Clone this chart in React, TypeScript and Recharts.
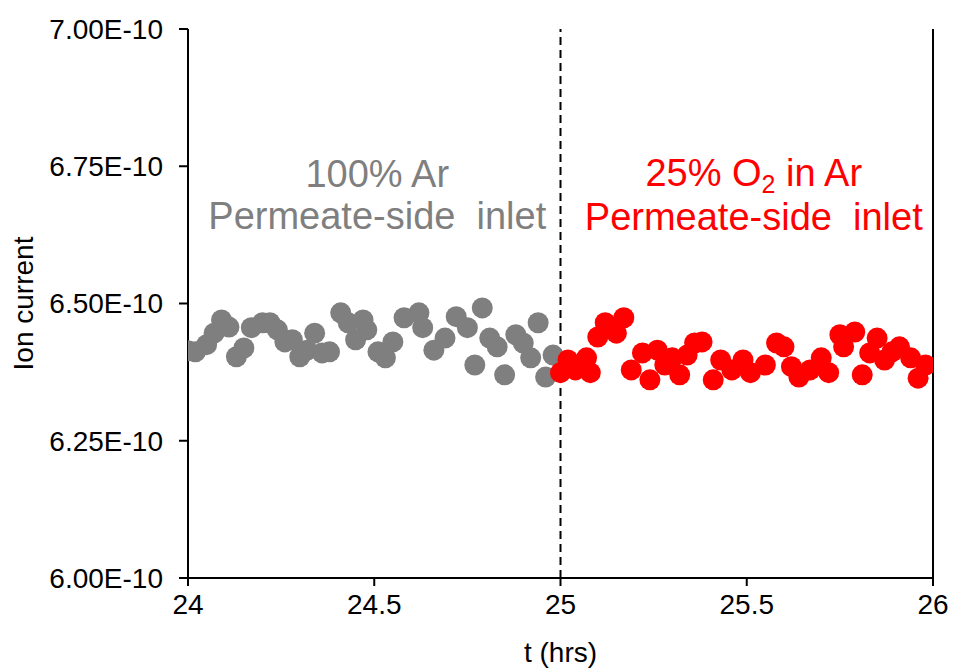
import React from 'react';
import { ScatterChart, Scatter, XAxis, YAxis, ReferenceLine, ReferenceArea, Label } from 'recharts';

const tGray = [24.0, 24.02, 24.05, 24.07, 24.09, 24.11, 24.13, 24.15, 24.17, 24.2, 24.22, 24.24, 24.26, 24.28, 24.3, 24.32, 24.34, 24.36, 24.38, 24.41, 24.43, 24.45, 24.47, 24.48, 24.51, 24.53, 24.55, 24.58, 24.62, 24.63, 24.66, 24.69, 24.72, 24.75, 24.77, 24.79, 24.81, 24.83, 24.85, 24.88, 24.9, 24.92, 24.94, 24.96, 24.98];
const iGray = [6.414, 6.412, 6.425, 6.446, 6.47, 6.457, 6.403, 6.419, 6.456, 6.465, 6.465, 6.452, 6.43, 6.434, 6.403, 6.415, 6.446, 6.41, 6.412, 6.483, 6.465, 6.434, 6.47, 6.452, 6.412, 6.401, 6.43, 6.474, 6.483, 6.456, 6.415, 6.437, 6.476, 6.456, 6.388, 6.492, 6.437, 6.421, 6.37, 6.443, 6.428, 6.401, 6.465, 6.366, 6.406].map((v) => v * 1e-10);

const tRed = [25.0, 25.02, 25.04, 25.07, 25.08, 25.1, 25.12, 25.15, 25.17, 25.19, 25.22, 25.24, 25.26, 25.28, 25.3, 25.32, 25.34, 25.36, 25.38, 25.41, 25.43, 25.46, 25.49, 25.51, 25.55, 25.58, 25.6, 25.62, 25.64, 25.67, 25.7, 25.72, 25.75, 25.76, 25.79, 25.81, 25.83, 25.85, 25.87, 25.89, 25.91, 25.94, 25.96, 25.98];
const iRed = [6.374, 6.397, 6.379, 6.401, 6.374, 6.439, 6.465, 6.446, 6.474, 6.379, 6.41, 6.361, 6.415, 6.388, 6.401, 6.37, 6.406, 6.428, 6.43, 6.361, 6.397, 6.379, 6.397, 6.374, 6.388, 6.428, 6.421, 6.385, 6.366, 6.379, 6.401, 6.374, 6.443, 6.421, 6.448, 6.37, 6.41, 6.437, 6.397, 6.412, 6.421, 6.401, 6.364, 6.388].map((v) => v * 1e-10);

const xTicks = [24, 24.5, 25, 25.5, 26];
const yTicks = [6.0e-10, 6.25e-10, 6.5e-10, 6.75e-10, 7.0e-10];
const xTitle = 't (hrs)';
const yTitle = 'Ion current';
const grayLines = ['100% Ar', 'Permeate-side\u00A0 inlet'];
const redLines = ['25% O', '2', ' in Ar', 'Permeate-side\u00A0 inlet'];

const grayData = tGray.map((t, i) => ({ t, I: iGray[i] }));
const redData = tRed.map((t, i) => ({ t, I: iRed[i] }));

const FONT = '"Liberation Sans", Arial, sans-serif';
const GRAY = '#7f7f7f';
const RED = '#ff0000';

const dot = (color: string) => (props: any) => (
  <circle cx={props.cx} cy={props.cy} r={10.5} fill={color} />
);

const fmtY = (v: number) => v.toExponential(2).toUpperCase();

const GrayNote = (props: any) => {
  const vb = props.viewBox;
  const cx = vb.x + vb.width / 2 + 3;
  return (
    <g fontFamily={FONT} fontSize={38} fill={GRAY} textAnchor="middle">
      <text x={cx} y={vb.y + 158}>{grayLines[0]}</text>
      <text x={cx} y={vb.y + 200}>{grayLines[1]}</text>
    </g>
  );
};

const RedNote = (props: any) => {
  const vb = props.viewBox;
  const cx = vb.x + vb.width / 2 + 7;
  return (
    <g fontFamily={FONT} fontSize={38} fill={RED} textAnchor="middle">
      <text x={cx} y={vb.y + 157}>
        <tspan>{redLines[0]}</tspan>
        <tspan fontSize={25} dy={7}>{redLines[1]}</tspan>
        <tspan dy={-7}>{redLines[2]}</tspan>
      </text>
      <text x={cx} y={vb.y + 201}>{redLines[3]}</text>
    </g>
  );
};

const YTitle = (props: any) => {
  const vb = props.viewBox;
  const cx = vb.x + 23;
  const cy = vb.y + vb.height / 2;
  return (
    <text x={cx} y={cy} transform={`rotate(-90 ${cx} ${cy})`} textAnchor="middle" dominantBaseline="central" fontFamily={FONT} fontSize={28} fill="#000">
      {yTitle}
    </text>
  );
};

const XTitle = (props: any) => {
  const vb = props.viewBox;
  return (
    <text x={vb.x + vb.width / 2} y={vb.y + 84} textAnchor="middle" fontFamily={FONT} fontSize={28} fill="#000">
      {xTitle}
    </text>
  );
};

export default function App() {
  return (
    <div style={{ position: 'absolute', left: 0, top: 0, width: 954, height: 668, background: '#fff' }}>
      <ScatterChart width={954} height={668} margin={{ top: 29, right: 21, bottom: 0, left: 0 }}>
        <XAxis
          type="number"
          dataKey="t"
          domain={[24, 26]}
          ticks={xTicks}
          allowDataOverflow
          height={90}
          stroke="#000"
          strokeWidth={2}
          tickSize={8}
          tickMargin={8}
          tick={{ fill: '#000', fontSize: 28, fontFamily: FONT }}
        >
          <Label content={XTitle} />
        </XAxis>
        <YAxis
          type="number"
          dataKey="I"
          domain={[6.0e-10, 7.0e-10]}
          ticks={yTicks}
          allowDataOverflow
          width={188}
          stroke="#000"
          strokeWidth={2}
          tickSize={9}
          tickMargin={16}
          tickFormatter={fmtY}
          tick={{ fill: '#000', fontSize: 28, fontFamily: FONT }}
        >
          <Label content={YTitle} />
        </YAxis>
        <ReferenceArea x1={24} x2={25} y1={6.75e-10} y2={7.0e-10} fill="none" stroke="none" ifOverflow="visible">
          <Label content={GrayNote} />
        </ReferenceArea>
        <ReferenceArea x1={25} x2={26} y1={6.75e-10} y2={7.0e-10} fill="none" stroke="none" ifOverflow="visible">
          <Label content={RedNote} />
        </ReferenceArea>
        <ReferenceLine x={26} stroke="#000" strokeWidth={2} ifOverflow="visible" />
        <Scatter data={grayData} fill={GRAY} shape={dot(GRAY)} isAnimationActive={false} />
        <Scatter data={redData} fill={RED} shape={dot(RED)} isAnimationActive={false} />
        <ReferenceLine x={25} stroke="#000" strokeWidth={2} strokeDasharray="8 5" ifOverflow="visible" />
      </ScatterChart>
    </div>
  );
}
